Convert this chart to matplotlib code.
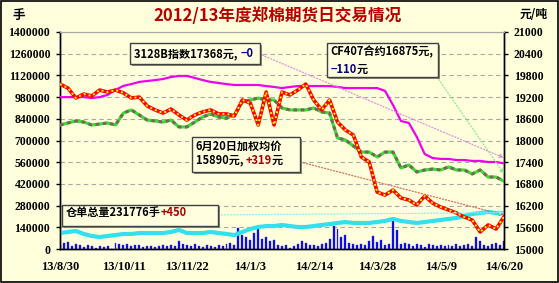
import matplotlib
matplotlib.use('Agg')
import matplotlib.pyplot as plt
import numpy as np
from matplotlib.patches import Rectangle
from matplotlib.transforms import offset_copy

plt.rcParams['font.family'] = ['Noto Sans CJK SC', 'DejaVu Sans']

# x axis: one point per ~week of trading, label every 8 points
x_labels = ['13/8/30', '13/10/11', '13/11/22', '14/1/3', '14/2/14', '14/3/28', '14/5/9', '14/6/20']
label_step = 8

# 328 index (元/吨, right axis)
index_328 = [19200, 19200, 19200, 19200, 19175, 19200, 19260, 19400, 19510, 19560,
             19620, 19645, 19670, 19700, 19755, 19785, 19785, 19730, 19670, 19620,
             19590, 19560, 19535, 19535, 19535, 19535, 19505, 19480, 19450, 19480,
             19505, 19505, 19505, 19505, 19505, 19480, 19450, 19450, 19450, 19450,
             19450, 19370, 18980, 18540, 18485, 18100, 17625, 17515, 17490, 17490,
             17460, 17460, 17435, 17435, 17405, 17405, 17368]

# CF407 contract (元/吨, right axis)
cf407 = [18430, 18485, 18540, 18510, 18430, 18455, 18485, 18430, 18760, 18845,
         18705, 18565, 18540, 18510, 18565, 18375, 18375, 18510, 18650, 18735,
         18650, 18620, 18705, 19065, 19120, 19175, 19120, 19120, 18900, 18845,
         18845, 18845, 18900, 18790, 18760, 18070, 18015, 17850, 17680, 17680,
         17545, 17680, 17680, 17240, 17325, 17130, 17185, 17210, 17185, 17270,
         17185, 17185, 17075, 17185, 16990, 16990, 16875]

# weighted average price (元/吨, right axis)
weighted_avg = [19560, 19450, 19175, 19285, 19230, 19395, 19340, 19395, 19315, 19175,
                19200, 18955, 18845, 18760, 18870, 18705, 18565, 18705, 18790, 18845,
                18735, 18735, 18680, 19120, 19035, 18430, 19340, 18430, 19340, 19260,
                19395, 19560, 19120, 18845, 19120, 18510, 18290, 18150, 17545, 17405,
                16575, 16490, 16630, 16410, 16355, 16215, 16465, 16270, 16160, 16080,
                15995, 15885, 15800, 15470, 15665, 15555, 15890]

# warehouse receipts (手, left axis)
warehouse = [103000, 110000, 116000, 97000, 84000, 77000, 84000, 90000, 97000, 97000,
             103000, 103000, 103000, 103000, 110000, 123000, 103000, 103000, 103000, 110000,
             103000, 97000, 90000, 110000, 129000, 142000, 148000, 148000, 155000, 148000,
             142000, 142000, 148000, 155000, 161000, 168000, 174000, 168000, 168000, 168000,
             174000, 181000, 194000, 181000, 174000, 168000, 174000, 181000, 187000, 194000,
             200000, 213000, 226000, 232000, 239000, 232000, 231776]

# daily volume (手, left axis), two bars per point
volume = [26000, 39000, 45000, 19000, 32000, 26000, 13000, 26000, 19000, 6000,
          19000, 13000, 19000, 3000, 39000, 32000, 26000, 32000, 19000, 26000,
          26000, 13000, 19000, 19000, 13000, 19000, 26000, 19000, 26000, 19000,
          52000, 32000, 26000, 19000, 32000, 19000, 13000, 26000, 19000, 13000,
          26000, 19000, 32000, 39000, 26000, 135000, 90000, 77000, 58000, 103000,
          129000, 65000, 77000, 52000, 58000, 26000, 19000, 26000, 6000, 19000,
          32000, 52000, 39000, 26000, 26000, 19000, 32000, 39000, 65000, 148000,
          129000, 77000, 90000, 39000, 32000, 26000, 32000, 26000, 52000, 84000,
          45000, 58000, 26000, 32000, 187000, 123000, 32000, 39000, 32000, 19000,
          32000, 26000, 13000, 32000, 26000, 19000, 26000, 19000, 26000, 19000,
          32000, 19000, 26000, 32000, 19000, 77000, 52000, 26000, 19000, 32000,
          39000, 26000, 52000]

x = np.arange(len(index_328))
xv = np.arange(len(volume)) * 0.5

bg = '#FFFFDC'
fig = plt.figure(figsize=(5.59, 2.83), dpi=100, facecolor=bg)
ax = fig.add_axes([60 / 559, 1 - 249 / 283, 444 / 559, 217 / 283])
ax.set_facecolor(bg)
ax2 = ax.twinx()

# left axis: volume bars + warehouse receipts
ax.bar(xv, volume, width=0.25, color='#0000DD', edgecolor='#4040FF', linewidth=0.3, zorder=2)
ax.plot(x, warehouse, color='#33E0EE', lw=3, solid_capstyle='butt', zorder=3)
ax.set_ylim(0, 1400000)
ax.set_yticks(np.arange(0, 1400001, 140000))
ax.set_yticklabels([str(v) for v in range(0, 1400001, 140000)],
                   family='Liberation Serif', weight='bold', fontsize=8.5)
ax.set_xlim(0, len(x) - 1)
ax.set_xticks(x[::label_step])
ax.set_xticklabels(x_labels, family='Liberation Serif', weight='bold', fontsize=9)
ax.tick_params(axis='x', length=0, pad=9)
ax.tick_params(axis='y', direction='out', length=3, width=1, pad=4)
ax.grid(axis='y', linestyle=(0, (4, 3)), color='#A8A8A8', lw=0.8, zorder=0)
ax.set_axisbelow(True)

# right axis: prices
ax2.plot(x, index_328, color='#EE00EE', lw=1.6, zorder=3)
ax2.plot(x, cf407, color='#33DD33', lw=2.2, zorder=4)
ax2.plot(x, cf407, color='#7A6656', lw=2.2, linestyle=(0, (1.2, 1.2)), zorder=4)
ax2.plot(x, weighted_avg, color='#FF0000', lw=2.6, zorder=5)
ax2.plot(x, weighted_avg, color='#FFFF00', lw=1.4, linestyle=(0, (1, 1.6)), zorder=5)
ax2.set_ylim(15000, 21000)
ax2.set_yticks(np.arange(15000, 21001, 600))
ax2.set_yticklabels([str(v) for v in range(15000, 21001, 600)],
                    family='Liberation Serif', weight='bold', fontsize=8.5)
ax2.tick_params(axis='y', direction='out', length=3, width=1, pad=4)

for a in (ax, ax2):
    a.spines['top'].set_color('#A8A8A8')
    a.spines['left'].set_linewidth(1)
    a.spines['right'].set_linewidth(1)
    a.spines['bottom'].set_linewidth(1)

renderer = fig.canvas.get_renderer()


def boxed_text(rect, lines, fs=8):
    x0, y0, x1, y1 = rect
    sx, sy = 2 / 444, 2 / 217
    ax2.add_patch(Rectangle((x0 + sx, y0 - sy), x1 - x0, y1 - y0, transform=ax2.transAxes,
                            facecolor='#8A8A7A', edgecolor='none', zorder=8, clip_on=False))
    ax2.add_patch(Rectangle((x0, y0), x1 - x0, y1 - y0, transform=ax2.transAxes,
                            facecolor='#FFFFE0', edgecolor='#404040', lw=1, zorder=9, clip_on=False))
    for tx, ty, segs in lines:
        trans = ax2.transAxes
        for s, col in segs:
            t = ax2.text(tx, ty, s, color=col, fontsize=fs, weight='bold', va='center',
                         ha='left', transform=trans, zorder=10)
            w = t.get_window_extent(renderer).width
            trans = offset_copy(trans, fig=fig, x=w, y=0, units='dots')


def connector(start, end_x, end_y, axis, col):
    ax2.annotate('', xy=(end_x, end_y), xycoords=axis.transData,
                 xytext=start, textcoords=ax2.transAxes,
                 arrowprops=dict(arrowstyle='-|>', linestyle=(0, (1, 1.5)), color=col,
                                 lw=0.9, mutation_scale=6, shrinkA=0, shrinkB=0),
                 zorder=7)


last = len(x) - 1
connector((0.455, 0.894), last, index_328[-1] + 150, ax2, '#E890E0')
connector((0.849, 0.793), last, cf407[-1] + 200, ax2, '#90E890')
connector((0.541, 0.401), last, weighted_avg[-1] + 50, ax2, '#D87060')
connector((0.356, 0.157), last, warehouse[-1] + 3000, ax, '#90EEF4')

navy = '#000080'
dred = '#AA0000'
boxed_text((0.158, 0.853, 0.450, 0.949),
           [(0.167, 0.899, [('3128B指数17368元, ', 'black'), ('\u22120', navy)])])
boxed_text((0.601, 0.793, 0.851, 0.949),
           [(0.610, 0.908, [('CF407合约16875元,', 'black')]),
            (0.610, 0.829, [('\u2212110', navy), ('元', 'black')])])
boxed_text((0.297, 0.355, 0.541, 0.516),
           [(0.306, 0.475, [('6月20日加权均价', 'black')]),
            (0.306, 0.410, [('15890元, ', 'black'), ('+319', dred), ('元', 'black')])])
boxed_text((0.0045, 0.106, 0.356, 0.203),
           [(0.0135, 0.166, [('仓单总量231776手', 'black'), ('+450', dred)])])

fig.text(0.497, 1 - 16 / 283, '2012/13年度郑棉期货日交易情况', ha='center', va='center',
         fontsize=12, weight='bold', color='#B80000')
fig.text(12 / 559, 1 - 15 / 283, '手', ha='left', va='center', fontsize=9, weight='bold')
fig.text(520 / 559, 1 - 15 / 283, '元/吨', ha='left', va='center', fontsize=8.5, weight='bold')

fig.add_artist(Rectangle((0.001, 0.002), 0.997, 0.995, transform=fig.transFigure,
                         fill=False, edgecolor='black', lw=1.2))

fig.savefig('out.png', dpi=100, facecolor=bg)
